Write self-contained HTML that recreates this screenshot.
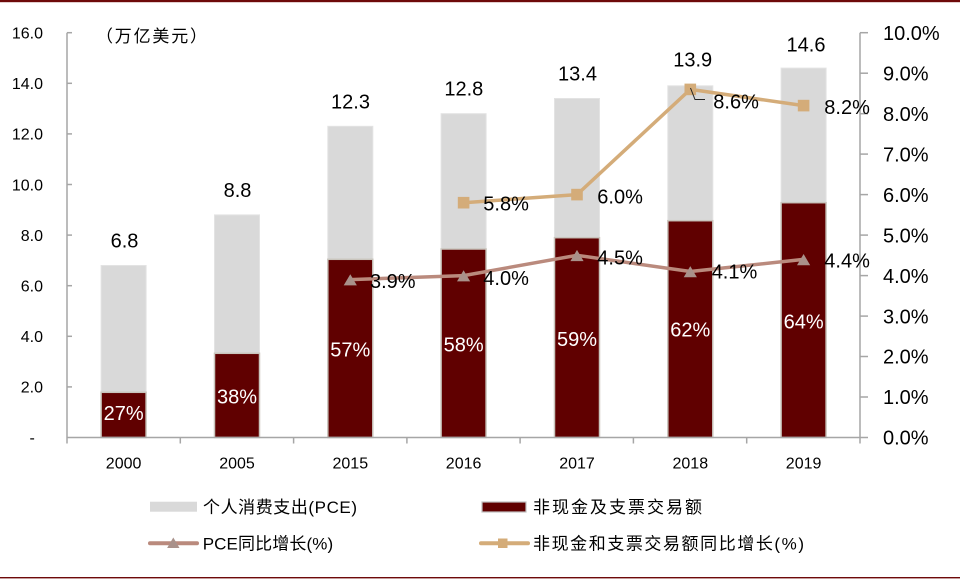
<!DOCTYPE html>
<html>
<head>
<meta charset="utf-8">
<style>
html,body{margin:0;padding:0;background:#fff;}
svg{display:block;}
text{font-family:"Liberation Sans","Noto Sans CJK SC",sans-serif;}
.cjk{font-family:"Liberation Sans","Noto Sans CJK SC",sans-serif;}
.wt{fill:#fff;}
.bk{fill:#000;}
</style>
</head>
<body>
<svg width="960" height="579" viewBox="0 0 960 579" xmlns="http://www.w3.org/2000/svg">
<rect x="0" y="0" width="960" height="579" fill="#fff"/>
<!-- top / bottom borders -->
<rect x="0" y="0" width="960" height="2.2" fill="#6e0a0a"/>
<rect x="0" y="577" width="960" height="1.4" fill="#6e0a0a"/>

<!-- gray total bars -->
<g fill="#d9d9d9" stroke="#e3e3e3" stroke-width="1">
<rect x="101.1" y="265.5" width="45" height="172"/>
<rect x="214.5" y="214.9" width="45" height="222.6"/>
<rect x="327.8" y="126.3" width="45" height="311.2"/>
<rect x="441.1" y="113.7" width="45" height="323.8"/>
<rect x="554.5" y="98.5" width="45" height="339"/>
<rect x="667.8" y="85.8" width="45" height="351.7"/>
<rect x="781.1" y="68.1" width="45" height="369.4"/>
</g>
<!-- dark bars -->
<g fill="#600000" stroke="#c9c5bd" stroke-width="1.5">
<rect x="101.1" y="392.3" width="45" height="45.2"/>
<rect x="214.5" y="353.3" width="45" height="84.2"/>
<rect x="327.8" y="259.3" width="45" height="178.2"/>
<rect x="441.1" y="249" width="45" height="188.5"/>
<rect x="554.5" y="237.7" width="45" height="199.8"/>
<rect x="667.8" y="220.7" width="45" height="216.8"/>
<rect x="781.1" y="202.7" width="45" height="234.8"/>
</g>

<!-- axes -->
<g stroke="#a6a6a6" stroke-width="1.5" fill="none">
<line x1="67" y1="32.7" x2="67" y2="437.5"/>
<line x1="860" y1="32.7" x2="860" y2="437.5"/>
<line x1="67" y1="437.5" x2="860" y2="437.5"/>
<line x1="67" y1="386.9" x2="72" y2="386.9"/>
<line x1="67" y1="336.3" x2="72" y2="336.3"/>
<line x1="67" y1="285.7" x2="72" y2="285.7"/>
<line x1="67" y1="235.1" x2="72" y2="235.1"/>
<line x1="67" y1="184.5" x2="72" y2="184.5"/>
<line x1="67" y1="133.9" x2="72" y2="133.9"/>
<line x1="67" y1="83.3" x2="72" y2="83.3"/>
<line x1="67" y1="32.7" x2="72" y2="32.7"/>
<line x1="860" y1="437.5" x2="868" y2="437.5"/>
<line x1="860" y1="397" x2="868" y2="397"/>
<line x1="860" y1="356.5" x2="868" y2="356.5"/>
<line x1="860" y1="316.1" x2="868" y2="316.1"/>
<line x1="860" y1="275.6" x2="868" y2="275.6"/>
<line x1="860" y1="235.1" x2="868" y2="235.1"/>
<line x1="860" y1="194.6" x2="868" y2="194.6"/>
<line x1="860" y1="154.1" x2="868" y2="154.1"/>
<line x1="860" y1="113.7" x2="868" y2="113.7"/>
<line x1="860" y1="73.2" x2="868" y2="73.2"/>
<line x1="860" y1="32.7" x2="868" y2="32.7"/>
<line x1="67" y1="437.5" x2="67" y2="443.5"/>
<line x1="180.3" y1="437.5" x2="180.3" y2="443.5"/>
<line x1="293.6" y1="437.5" x2="293.6" y2="443.5"/>
<line x1="406.9" y1="437.5" x2="406.9" y2="443.5"/>
<line x1="520.1" y1="437.5" x2="520.1" y2="443.5"/>
<line x1="633.4" y1="437.5" x2="633.4" y2="443.5"/>
<line x1="746.7" y1="437.5" x2="746.7" y2="443.5"/>
<line x1="860" y1="437.5" x2="860" y2="443.5"/>
</g>

<!-- left axis labels -->
<g font-size="16" text-anchor="end" class="bk" style="fill:#000">
<text x="43" y="38.5">16.0</text>
<text x="43" y="89.1">14.0</text>
<text x="43" y="139.7">12.0</text>
<text x="43" y="190.3">10.0</text>
<text x="43" y="240.9">8.0</text>
<text x="43" y="291.5">6.0</text>
<text x="43" y="342.1">4.0</text>
<text x="43" y="392.7">2.0</text>
</g>
<text x="29.5" y="443" font-size="16" style="fill:#000">-</text>

<!-- right axis labels -->
<g font-size="20" style="fill:#000">
<text x="883" y="39.9">10.0%</text>
<text x="883" y="80.4">9.0%</text>
<text x="883" y="120.9">8.0%</text>
<text x="883" y="161.3">7.0%</text>
<text x="883" y="201.8">6.0%</text>
<text x="883" y="242.3">5.0%</text>
<text x="883" y="282.8">4.0%</text>
<text x="883" y="323.3">3.0%</text>
<text x="883" y="363.7">2.0%</text>
<text x="883" y="404.2">1.0%</text>
<text x="883" y="444.7">0.0%</text>
</g>

<!-- x labels -->
<g font-size="16" text-anchor="middle" style="fill:#000">
<text x="123.6" y="468.3">2000</text>
<text x="237" y="468.3">2005</text>
<text x="350.3" y="468.3">2015</text>
<text x="463.6" y="468.3">2016</text>
<text x="577" y="468.3">2017</text>
<text x="690.3" y="468.3">2018</text>
<text x="803.6" y="468.3">2019</text>
</g>

<!-- unit label -->
<text class="cjk" x="96" y="42" font-size="17" textLength="111" lengthAdjust="spacing" style="fill:#000">（万亿美元）</text>

<!-- totals -->
<g font-size="20" text-anchor="middle" style="fill:#000">
<text x="124.5" y="247.3">6.8</text>
<text x="237.5" y="197">8.8</text>
<text x="350.5" y="108.3">12.3</text>
<text x="463.8" y="95.7">12.8</text>
<text x="577.5" y="80.5">13.4</text>
<text x="692.7" y="66.7">13.9</text>
<text x="806" y="51.7">14.6</text>
</g>

<!-- bar percentages -->
<g font-size="20" text-anchor="middle" style="fill:#ffffff">
<text x="123.6" y="420" style="fill:#ffffff">27%</text>
<text x="237" y="403.3" style="fill:#ffffff">38%</text>
<text x="350.3" y="356.7" style="fill:#ffffff">57%</text>
<text x="463.6" y="351.7" style="fill:#ffffff">58%</text>
<text x="577" y="346" style="fill:#ffffff">59%</text>
<text x="690.3" y="336.7" style="fill:#ffffff">62%</text>
<text x="803.6" y="328.3" style="fill:#ffffff">64%</text>
</g>

<!-- PCE growth line -->
<polyline points="350.3,279.6 463.6,275.6 577,255.3 690.3,271.5 803.6,259.4" fill="none" stroke="#ba8a7d" stroke-width="3.5" stroke-linejoin="round"/>
<g fill="#a9918a">
<polygon points="350.3,274.2 356.9,285.4 343.7,285.4"/>
<polygon points="463.6,270.2 470.2,281.4 457,281.4"/>
<polygon points="577,249.9 583.6,261.1 570.4,261.1"/>
<polygon points="690.3,266.1 696.9,277.3 683.7,277.3"/>
<polygon points="803.6,254 810.2,265.2 797,265.2"/>
</g>

<!-- non-cash growth line -->
<polyline points="463.6,202.7 577,194.6 690.3,89.4 803.6,105.6" fill="none" stroke="#d4ac79" stroke-width="3.5" stroke-linejoin="round"/>
<g fill="#d4ac79">
<rect x="457.8" y="196.9" width="11.6" height="11.6"/>
<rect x="571.2" y="188.8" width="11.6" height="11.6"/>
<rect x="684.5" y="83.6" width="11.6" height="11.6"/>
<rect x="797.8" y="99.8" width="11.6" height="11.6"/>
</g>
<polyline points="690.5,88 695,99.5 705,99.5" fill="none" stroke="#222" stroke-width="1"/>

<!-- line labels -->
<g font-size="20" style="fill:#000">
<text x="370" y="288">3.9%</text>
<text x="483.3" y="285">4.0%</text>
<text x="597.3" y="264.3">4.5%</text>
<text x="711.7" y="278.3">4.1%</text>
<text x="824.3" y="267.7">4.4%</text>
<text x="483.3" y="210.7">5.8%</text>
<text x="597.3" y="203.3">6.0%</text>
<text x="713.3" y="108.3">8.6%</text>
<text x="824.3" y="114">8.2%</text>
</g>

<!-- legend -->
<rect x="150" y="501.7" width="47" height="10" fill="#d9d9d9"/>
<text class="cjk" x="203" y="513" font-size="17" textLength="154" lengthAdjust="spacing" style="fill:#000">个人消费支出(PCE)</text>
<rect x="482" y="502" width="44" height="10" fill="#600000" stroke="#c0c0c0" stroke-width="1.2"/>
<text class="cjk" x="533" y="513" font-size="17" textLength="169" lengthAdjust="spacing" style="fill:#000">非现金及支票交易额</text>

<line x1="150" y1="543.3" x2="197" y2="543.3" stroke="#ba8a7d" stroke-width="4" stroke-linecap="round"/>
<polygon points="173.3,537.5 179.5,548 167.1,548" fill="#a9918a"/>
<text class="cjk" x="202.7" y="549.3" font-size="17" textLength="130.5" lengthAdjust="spacing" style="fill:#000">PCE同比增长(%)</text>
<line x1="481" y1="543.3" x2="528" y2="543.3" stroke="#d4ac79" stroke-width="4" stroke-linecap="round"/>
<rect x="498" y="538.5" width="9.5" height="9.5" fill="#d4ac79"/>
<text class="cjk" x="533" y="549.3" font-size="17" textLength="271" lengthAdjust="spacing" style="fill:#000">非现金和支票交易额同比增长(%)</text>
</svg>
</body>
</html>
